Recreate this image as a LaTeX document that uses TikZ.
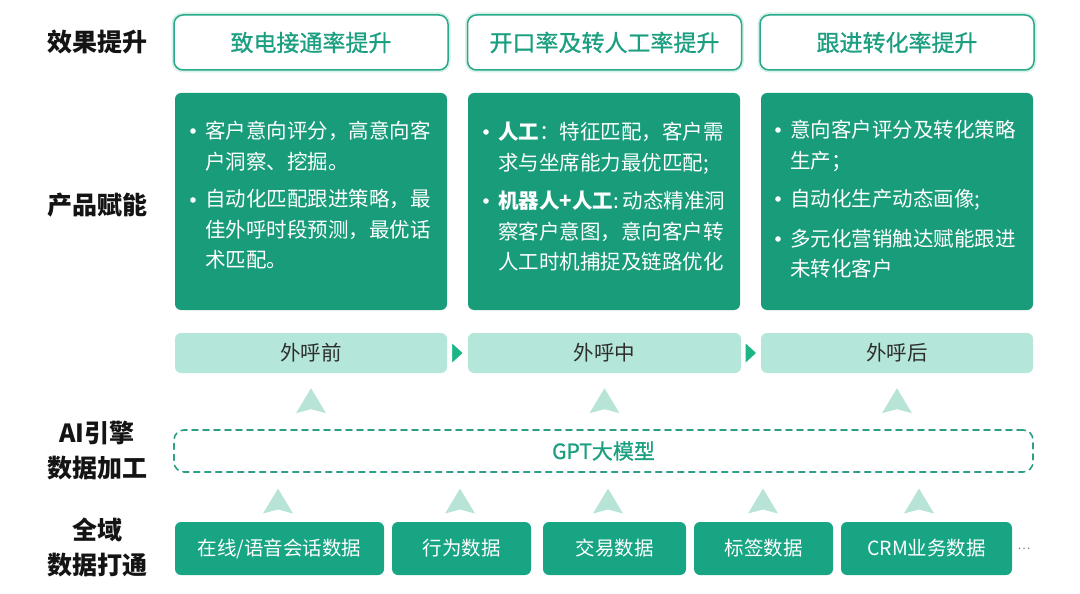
\documentclass[tikz,border=0pt]{standalone}
\usepackage{fontspec}
\setmainfont{Noto Sans CJK SC}
\newfontfamily\midweight[FakeBold=0.9]{Noto Sans CJK SC}
\usetikzlibrary{calc}
\definecolor{labelblack}{HTML}{141414}
\definecolor{goalline}{HTML}{2BA98B}
\definecolor{goalglow}{HTML}{D5F0E8}
\definecolor{goaltext}{HTML}{1C9F80}
\definecolor{cardgreen}{HTML}{189C7A}
\definecolor{stagemint}{HTML}{B4E6D9}
\definecolor{stagetext}{HTML}{2E2E2E}
\definecolor{gotri}{HTML}{1DB587}
\definecolor{chevmint}{HTML}{B8E4D8}
\definecolor{dashline}{HTML}{2E9E86}
\definecolor{srcgreen}{HTML}{17A583}
\begin{document}
\begin{tikzpicture}[x=1pt, y=-1pt, line join=round, line cap=round,
  rowlabel/.style={font=\fontsize{25}{35}\selectfont\bfseries, text=labelblack, align=center},
  goal/.style={draw=goalline, line width=1.5pt, fill=white, rounded corners=9pt,
    minimum width=274pt, minimum height=55pt, font=\fontsize{23}{26}\selectfont\midweight, text=goaltext,
    preaction={draw=goalglow, line width=5pt}},
  card/.style={fill=cardgreen, rounded corners=6pt, minimum width=272pt, minimum height=217pt},
  item/.style={anchor=north west, inner sep=0pt, align=left, text=white, font=\fontsize{20.5}{30.5}\selectfont},
  stage/.style={fill=stagemint, rounded corners=6pt, minimum height=40pt, font=\fontsize{20.5}{24}\selectfont, text=stagetext},
  gptbox/.style={draw=dashline, dash pattern=on 6pt off 5pt, line width=1.6pt, rounded corners=10pt,
    minimum width=859pt, minimum height=42pt, font=\fontsize{21}{24}\selectfont\midweight, text=goaltext},
  source/.style={fill=srcgreen, rounded corners=6pt, minimum height=53pt, text=white, font=\fontsize{19.5}{22}\selectfont},
  chev/.pic={\fill[chevmint] (-15,12) -- (0,-13) -- (15,12) -- (0,8) -- cycle;},
  go/.pic={\fill[gotri, draw=white, line width=1pt] (-6,-11) -- (6,0) -- (-6,11) -- cycle;}
]
\useasboundingbox (0,0) rectangle (1080,594);

% row labels
\node[rowlabel] (lgoal) at (97,42) {效果提升};
\node[rowlabel] (lprod) at (97,205) {产品赋能};
\node[rowlabel] (lai) at (97,451) {AI引擎\\数据加工};
\node[rowlabel] (ldata) at (97,547) {全域\\数据打通};

% goals
\node[goal] (g1) at (311,42.5) {致电接通率提升};
\node[goal] (g2) at (604.5,42.5) {开口率及转人工率提升};
\node[goal] (g3) at (897,42.5) {跟进转化率提升};

% cards
\node[card] (card1) at (311,201.5) {};
\node[card] (card2) at (604,201.5) {};
\node[card] (card3) at (897,201.5) {};
\node[item] (c1a) at (205,121) {客户意向评分，高意向客\\户洞察、挖掘。};
\node[item] (c1b) at (205,189) {自动化匹配跟进策略，最\\佳外呼时段预测，最优话\\术匹配。};
\node[item] (c2a) at (498,122) {\textbf{人工}：特征匹配，客户需\\求与坐席能力最优匹配;};
\node[item] (c2b) at (498,191) {\textbf{机器人+人工}:\hspace{4pt}动态精准洞\\察客户意图，意向客户转\\人工时机捕捉及链路优化};
\node[item] (c3a) at (790,120) {意向客户评分及转化策略\\生产；};
\node[item] (c3b) at (790,189) {自动化生产动态画像;};
\node[item] (c3c) at (790,229) {多元化营销触达赋能跟进\\未转化客户};
\foreach \x/\y in {193/131, 193/200, 486/132, 486/201, 778/130, 778/199, 778/239}
  \fill[white] (\x,\y) circle (2.8);

% stages
\node[stage, minimum width=272pt] (s1) at (311,353) {外呼前};
\node[stage, minimum width=273pt] (s2) at (604.5,353) {外呼中};
\node[stage, minimum width=272pt] (s3) at (897,353) {外呼后};
\pic at ($(s1.east)!0.5!(s2.west)$) {go};
\pic at ($(s2.east)!0.5!(s3.west)$) {go};

% model
\node[gptbox] (gpt) at (603.5,451) {GPT大模型};
\foreach \s in {s1,s2,s3}
  \pic at ($(\s.south)!0.5!(\s.south |- gpt.north)$) {chev};

% data sources
\node[source, minimum width=209pt] (d1) at (279.5,548.5) {在线/语音会话数据};
\node[source, minimum width=139pt] (d2) at (461.5,548.5) {行为数据};
\node[source, minimum width=143pt] (d3) at (614.5,548.5) {交易数据};
\node[source, minimum width=139pt] (d4) at (763.5,548.5) {标签数据};
\node[source, minimum width=171pt] (d5) at (926.5,548.5) {CRM业务数据};
\node[text=gray, font=\fontsize{12}{14}\selectfont] (more) at (1024,549) {…};
\foreach \x in {278,460,608,763,919}
  \pic at (\x,501.5) {chev};
\end{tikzpicture}
\end{document}
